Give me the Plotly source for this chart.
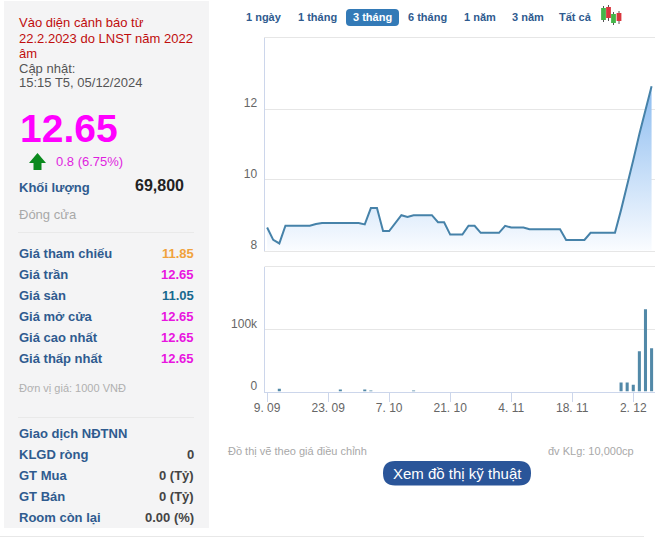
import pandas as pd
import plotly.graph_objects as go

W, H = 662, 541

# ---------- data ----------
dates = [d.strftime("%Y-%m-%d") for d in pd.bdate_range("2024-09-09", periods=64)]
price = [8.65, 8.3, 8.2, 8.7, 8.7, 8.7, 8.7, 8.7, 8.75, 8.78, 8.78, 8.78, 8.77, 8.77, 8.78, 8.78,
         8.74, 9.2, 9.2, 8.55, 8.55, 8.78, 9.0, 8.95, 9.0, 9.0, 9.0, 9.0, 8.8, 8.8, 8.45, 8.45,
         8.45, 8.7, 8.7, 8.5, 8.5, 8.5, 8.5, 8.7, 8.65, 8.65, 8.65, 8.6, 8.6, 8.6, 8.6, 8.6,
         8.6, 8.3, 8.3, 8.3, 8.3, 8.5, 8.5, 8.5, 8.5, 8.5, 9.15, 9.83, 10.56, 11.3, 12.0, 12.65]
volume = [0, 0, 4500, 0, 0, 0, 0, 0, 0, 0, 0, 0, 2500, 0, 0, 0,
          3000, 1500, 0, 0, 0, 0, 0, 0, 1000, 0, 0, 0, 0, 0, 0, 0,
          0, 0, 0, 0, 0, 0, 0, 0, 0, 0, 0, 0, 0, 0, 0, 0,
          0, 0, 0, 0, 0, 0, 0, 0, 0, 0, 14600, 14600, 11000, 65000, 133000, 69800]
x_tick_dates = ["2024-09-09", "2024-09-23", "2024-10-07", "2024-10-21", "2024-11-04", "2024-11-18", "2024-12-02"]
x_tick_text = ["9. 09", "23. 09", "7. 10", "21. 10", "4. 11", "18. 11", "2. 12"]
price_ticks = [8, 10, 12]
volume_ticks = [0, 100000]
volume_tick_text = ["0", "100k"]
tabs = ["1 ngày", "1 tháng", "3 tháng", "6 tháng", "1 năm", "3 năm", "Tất cả"]
warning_lines = ["Vào diện cảnh báo từ", "22.2.2023 do LNST năm 2022", "âm"]
update_lines = ["Cập nhật:", "15:15 T5, 05/12/2024"]
rows_a = [("Giá tham chiếu", "11.85", "#f0a23c"), ("Giá trần", "12.65", "#e815e0"),
          ("Giá sàn", "11.05", "#17698f"), ("Giá mở cửa", "12.65", "#e815e0"),
          ("Giá cao nhất", "12.65", "#e815e0"), ("Giá thấp nhất", "12.65", "#e815e0")]
rows_b = [("KLGD ròng", "0"), ("GT Mua", "0 (Tỷ)"), ("GT Bán", "0 (Tỷ)"), ("Room còn lại", "0.00 (%)")]

# ---------- helpers ----------
FONT = "Liberation Sans"
BLUE = "#2f5b8f"
px = lambda v: v / W
py = lambda v: 1 - v / H
ann, shp = [], []


def text(x, y, s, size=13, color="#333", bold=False, anchor="left", family=FONT):
    ann.append(dict(xref="paper", yref="paper", x=px(x), y=py(y), text=f"<b>{s}</b>" if bold else s,
                    showarrow=False, xanchor=anchor, yanchor="middle", align=anchor,
                    font=dict(family=family, size=size, color=color), borderpad=0, borderwidth=0))


def rect(x0, y0, x1, y1, color, r=0):
    if r:
        p = (f"M{px(x0+r)},{py(y0)} L{px(x1-r)},{py(y0)} Q{px(x1)},{py(y0)} {px(x1)},{py(y0+r)} "
             f"L{px(x1)},{py(y1-r)} Q{px(x1)},{py(y1)} {px(x1-r)},{py(y1)} L{px(x0+r)},{py(y1)} "
             f"Q{px(x0)},{py(y1)} {px(x0)},{py(y1-r)} L{px(x0)},{py(y0+r)} Q{px(x0)},{py(y0)} {px(x0+r)},{py(y0)} Z")
        shp.append(dict(type="path", xref="paper", yref="paper", path=p, fillcolor=color, line_width=0, layer="below"))
    else:
        shp.append(dict(type="rect", xref="paper", yref="paper", x0=px(x0), x1=px(x1), y0=py(y0), y1=py(y1),
                        fillcolor=color, line_width=0, layer="below"))


def hline(x0, x1, y, color):
    shp.append(dict(type="line", xref="paper", yref="paper", x0=px(x0), x1=px(x1), y0=py(y), y1=py(y),
                    line=dict(color=color, width=1), layer="below"))


# ---------- left panel ----------
rect(4, 1, 209, 528, "#f4f4f5")
hline(0, 644, 536.5, "#e8e8e8")
hline(18, 194, 232.5, "#e9e9e9")
hline(18, 194, 417.5, "#e9e9e9")
for i, s in enumerate(warning_lines):
    text(18.5, 23 + 15 * i, s, color="#c00d0d")
for i, s in enumerate(update_lines):
    text(18.5, 68 + 15 * i, s, color="#555555")
text(19.5, 128, "12.65", size=39, color="#ff00ff", bold=True)
text(56, 161, "0.8 (6.75%)", color="#e01fe0")
shp.append(dict(type="path", xref="paper", yref="paper", fillcolor="#0b8a1e", line_width=0,
                path=" ".join(f"{c}{px(a)},{py(b)}" for c, a, b in
                              [("M", 37.5, 153), ("L", 46, 163), ("L", 41.5, 163), ("L", 41.5, 170),
                               ("L", 33.5, 170), ("L", 33.5, 163), ("L", 29, 163)]) + " Z"))
text(19, 187.5, "Khối lượng", color=BLUE, bold=True)
text(184, 185.5, "69,800", size=16, color="#222222", bold=True, anchor="right")
text(18.5, 214.5, "Đóng cửa", color="#a8a8a8")
for i, (lab, val, col) in enumerate(rows_a):
    text(19, 253.5 + 21 * i, lab, color=BLUE, bold=True)
    text(194, 253.5 + 21 * i, val, color=col, bold=True, anchor="right")
text(18.5, 388, "Đơn vị giá: 1000 VNĐ", size=11, color="#b0b0b0")
text(19, 433.5, "Giao dịch NĐTNN", color=BLUE, bold=True)
for i, (lab, val) in enumerate(rows_b):
    text(19, 454.5 + 21 * i, lab, color=BLUE, bold=True)
    text(194, 454.5 + 21 * i, val, color="#444444", bold=True, anchor="right")

# ---------- tabs ----------
rect(346, 9, 399, 26, "#337ab7", r=4)
tab_centres = [264, 317, 372.5, 427.5, 479.5, 527.5, 575.5]
for t, c in zip(tabs, tab_centres):
    text(c, 17.5, t, size=11, bold=True, color="#ffffff" if t == "3 tháng" else BLUE, anchor="center")
for x0, y0, y1, b0, b1, col in [(603.5, 6, 22, 8, 20, "#43b649"), (608.5, 5, 21, 7, 18, "#d9363e"),
                                (613.5, 12, 25, 14, 23, "#43b649"), (619, 11, 24, 13, 21, "#d9363e")]:
    shp.append(dict(type="line", xref="paper", yref="paper", x0=px(x0), x1=px(x0), y0=py(y0), y1=py(y1),
                    line=dict(color="#555555", width=1)))
    rect(x0 - 2.4, b0, x0 + 2.4, b1, col)
    shp[-1]["layer"] = "above"

# ---------- footer ----------
text(228, 450.5, "Đồ thị vẽ theo giá điều chỉnh", size=11, color="#a8a8a8")
text(634, 450.5, "đv KLg: 10,000cp", size=11, color="#a8a8a8", anchor="right")
rect(383, 461, 531, 485.5, "#2a5599", r=12)
text(457, 473, "Xem đồ thị kỹ thuật", size=15, color="#ffffff", anchor="center")

# ---------- charts ----------
fig = go.Figure()
fig.add_trace(go.Scatter(
    x=dates, y=price, mode="lines", line=dict(color="#4682a9", width=2, shape="linear"), fill="tozeroy",
    fillgradient=dict(type="vertical", start=12.65, stop=8,
                      colorscale=[[0, "rgba(140,188,240,1)"], [1, "rgba(250,252,255,1)"]]),
    xaxis="x", yaxis="y", hoverinfo="skip", showlegend=False))
fig.add_trace(go.Bar(x=dates, y=volume, marker=dict(color="#5289a8", line_width=0), xaxis="x2", yaxis="y2",
                     hoverinfo="skip", showlegend=False))

XR = [-0.43, 63.56]
LEFT, RIGHT = 264.5, 655
tick_font = dict(family=FONT, size=12, color="#666666")
fig.update_layout(
    width=W, height=H, margin=dict(l=0, r=0, t=0, b=0, autoexpand=False), paper_bgcolor="white",
    plot_bgcolor="rgba(0,0,0,0)",
    font=dict(family=FONT), bargap=0.5, annotations=ann,
    xaxis=dict(domain=[px(LEFT), px(RIGHT)], type="category", range=XR, categoryorder="array", categoryarray=dates,
               showticklabels=False, ticks="", showgrid=False, showline=True, linecolor="#e6e6e6", linewidth=1,
               mirror=True, zeroline=False, anchor="y", automargin=False),
    yaxis=dict(domain=[py(250.5), py(37.5)], range=[8, 14.03], tickvals=price_ticks, tickfont=tick_font,
               gridcolor="#e6e6e6", gridwidth=1, showline=True, linecolor="#ccd6eb", linewidth=1, zeroline=False,
               ticks="outside", ticklen=4, tickcolor="rgba(0,0,0,0)", ticklabelshift=-6, anchor="x", automargin=False),
    xaxis2=dict(domain=[px(LEFT), px(RIGHT)], type="category", range=XR, categoryorder="array", categoryarray=dates,
                tickmode="array", tickvals=x_tick_dates, ticktext=x_tick_text, tickfont=tick_font, tickangle=0,
                ticks="outside", ticklen=9, tickcolor="#ccd6eb", ticklabelstandoff=-4, showgrid=False, showline=True,
                linecolor="#ccd6eb", linewidth=1, zeroline=False, anchor="y2", automargin=False),
    yaxis2=dict(domain=[py(391.5), py(266.5)], range=[0, 202000], tickvals=volume_ticks, ticktext=volume_tick_text,
                tickfont=tick_font, gridcolor="#e6e6e6", gridwidth=1, showline=True, linecolor="#ccd6eb", linewidth=1,
                zeroline=False, ticks="outside", ticklen=4, tickcolor="rgba(0,0,0,0)", ticklabelshift=-6, anchor="x2",
                automargin=False),
)
hline(LEFT, RIGHT, 266.5, "#e6e6e6")
fig.update_layout(shapes=shp)
fig.write_html("out.html", post_script="document.body.style.margin='0';", config=dict(displayModeBar=False))
